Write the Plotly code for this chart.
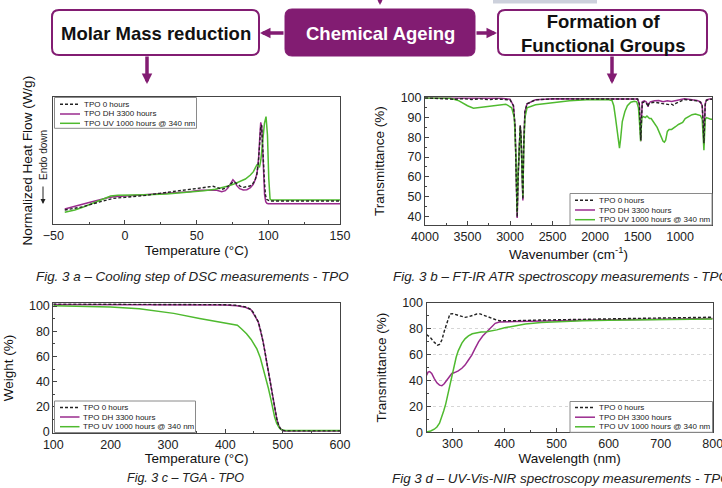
import plotly.graph_objects as go

W, H = 722, 488
PURPLE_BOX = "#821c72"
C_0H = "#222222"
C_DH = "#9a2b8e"
C_UV = "#4fba2f"
FONT = "Liberation Sans, Arial, sans-serif"

series_names = ["TPO 0 hours", "TPO DH 3300 hours", "TPO UV 1000 hours @ 340 nm"]

# ---- Fig 3a: DSC cooling step ----
dsc_T_0h = [-42, -35, -29, -23, -17.4, -12, -8, 0, 6, 15, 24, 33, 41, 50, 57, 61.5, 64.5, 67.5, 70, 72,
            73.5, 75.5, 77, 78.5, 80.5, 82.6, 85, 87.2, 89, 90.7, 92, 93, 94, 94.7, 95.3, 95.9, 96.6,
            97.3, 98, 98.8, 100, 101, 110, 130, 150]
dsc_hf_0h = [4.2, 4.7, 5.2, 6.0, 6.7, 7.3, 7.7, 8.0, 8.2, 8.6, 9.2, 9.7, 10.2, 10.7, 11.2, 11.3, 10.9,
             10.4, 10.7, 11.5, 12.1, 12.6, 12.4, 11.9, 11.3, 11.0, 11.1, 11.4, 12.0, 13.1, 14.9, 18.2,
             24.2, 29.2, 29.7, 25.7, 18.7, 12.7, 8.7, 7.4, 7.0, 6.9, 6.9, 6.9, 6.9]
dsc_T_dh = [-42, -35, -29, -23, -17.4, -12, -8, 0, 10, 29, 45, 52, 60, 64, 67.5, 70, 72, 74, 75.3, 76.5,
            78, 80, 82.5, 85, 87.5, 89.5, 91, 92.2, 93.2, 94, 94.7, 95.4, 96, 96.7, 97.4, 98.2, 99, 100,
            110, 130, 150]
dsc_hf_dh = [4.5, 5.2, 6.0, 6.7, 7.4, 7.9, 8.2, 8.4, 8.6, 9.2, 9.7, 10.1, 10.2, 10.1, 9.7, 10.0, 10.9,
             12.6, 13.3, 12.7, 11.5, 10.6, 10.2, 10.3, 10.9, 11.9, 13.4, 15.5, 19.7, 25.7, 30.5, 29.2,
             22.7, 14.7, 8.7, 6.7, 6.2, 6.1, 6.1, 6.1, 6.1]
dsc_T_uv = [-42, -35, -29, -23, -17.4, -13, -10, -5, 0, 15, 29, 45, 55, 63, 68.6, 72, 75.5, 80, 84,
            87.5, 89.6, 91, 92, 93, 93.8, 94.8, 96.1, 97.3, 98.4, 99.4, 100.3, 101.2, 102, 110, 130, 150]
dsc_hf_uv = [3.5, 4.2, 5.1, 6.1, 7.1, 8.0, 8.4, 8.6, 8.7, 8.8, 9.0, 9.5, 10.0, 10.4, 10.9, 11.4, 11.9,
             12.7, 13.5, 14.7, 15.7, 16.9, 17.7, 17.5, 17.0, 19.2, 25.2, 30.2, 32.2, 26.7, 13.7, 7.5,
             7.2, 7.2, 7.2, 7.2]

# ---- Fig 3b: FT-IR ATR ----
ir_wn_dh = [4000, 3700, 3100, 3000, 2960, 2940, 2925, 2916, 2905, 2890, 2880, 2870, 2858, 2849, 2840,
            2825, 2800, 2700, 2500, 2000, 1800, 1600, 1500, 1480, 1470, 1462, 1455, 1445, 1420, 1400,
            1385, 1377, 1370, 1350, 1300, 1250, 1200, 1150, 1100, 1050, 1000, 950, 900, 850, 800, 760,
            740, 730, 720, 714, 705, 690, 650, 600]
ir_T_dh = [100, 100, 99.8, 99.3, 96, 85, 55, 39, 60, 82, 86, 80, 60, 48, 75, 93, 97, 99, 99.6, 99.7,
           99.8, 99.8, 99.5, 97, 86, 78, 88, 98, 98.5, 98, 97, 95.5, 97, 98, 98.5, 98.7, 98, 98.5, 98.2,
           98.7, 99, 99.5, 99.3, 99, 98.7, 98, 96, 88, 76, 85, 97, 99, 99.5, 99.5]
ir_wn_0h = [4000, 3800, 3650, 3550, 3450, 3350, 3250, 3150, 3050, 3000, 2960, 2940, 2925, 2916, 2905,
            2890, 2880, 2870, 2858, 2849, 2840, 2825, 2800, 2700, 2500, 2000, 1800, 1600, 1500, 1480,
            1470, 1462, 1455, 1445, 1420, 1400, 1385, 1377, 1370, 1350, 1300, 1250, 1200, 1150, 1120,
            1100, 1080, 1050, 1000, 950, 900, 850, 800, 760, 740, 730, 720, 714, 705, 690, 650, 600]
ir_T_0h = [100, 99.7, 99.3, 99.6, 99.2, 99.5, 99.1, 99.4, 99.2, 99.0, 96, 85, 55, 39.5, 60, 82, 86, 80,
           60, 48.5, 75, 93, 97, 99, 99.5, 99.6, 99.7, 99.7, 99.4, 97, 86, 78.5, 88, 97.5, 98, 97.5, 96.5,
           95.5, 96.8, 97.5, 97.8, 97.5, 97.2, 97.0, 96.5, 96.8, 96.3, 97.2, 98.2, 99.2, 99.0, 98.8, 98.5,
           97.8, 95.8, 88, 77, 85, 96.5, 98.8, 99.3, 99.3]
ir_wn_uv = [4000, 3700, 3600, 3500, 3430, 3350, 3200, 3050, 2980, 2950, 2930, 2917, 2905, 2890, 2880,
            2870, 2858, 2849, 2840, 2825, 2800, 2700, 2500, 2300, 2100, 1950, 1850, 1800, 1780, 1760,
            1740, 1720, 1713, 1700, 1680, 1650, 1620, 1580, 1540, 1510, 1490, 1475, 1465, 1458, 1450,
            1430, 1410, 1390, 1377, 1360, 1340, 1300, 1270, 1240, 1220, 1200, 1185, 1170, 1150, 1130,
            1100, 1080, 1050, 1020, 1000, 970, 940, 900, 860, 820, 790, 760, 740, 730, 720, 712, 705,
            690, 660, 640, 600]
ir_T_uv = [100, 99.8, 98.5, 96, 94.8, 95.2, 96.2, 96.8, 95, 90, 70, 42, 62, 80, 85.5, 79, 62, 50, 72,
           90, 95, 96.5, 97.5, 98.5, 99, 99.2, 99.2, 98.6, 96, 90, 82, 75, 74.5, 79, 88, 93, 96, 97.8,
           98.3, 98, 95, 86, 78, 84, 90, 90.5, 90, 90.8, 90, 89.5, 89.5, 87, 85, 82, 80, 78, 77.5, 78.5,
           83, 84, 84, 84.5, 85.5, 86.5, 87, 87.5, 89.5, 90.5, 91.5, 91.8, 91.5, 91, 89, 83, 73.5, 82,
           89, 90, 89.5, 89.2, 89]

# ---- Fig 3c: TGA ----
tga_T_0h = [100, 200, 300, 400, 420, 435, 445, 449, 453, 457.5, 462, 466, 469, 472, 475, 478, 481, 484,
            487, 490, 493, 496, 500, 505, 600]
tga_w_0h = [101.6, 101.6, 101.5, 101.1, 100.6, 99.4, 97.3, 94.8, 91.3, 87.5, 80, 72, 64, 56, 48, 40,
            32, 24, 16.5, 10, 5.5, 2.8, 1.3, 1.0, 1.0]
tga_T_dh = [100, 200, 300, 400, 420, 435, 445, 449, 453, 457.5, 462, 466, 469, 472, 475, 478, 481, 484,
            487, 490, 493, 496, 500, 505, 600]
tga_w_dh = [101.2, 101.2, 101.1, 100.8, 100.3, 99.1, 97.0, 94.5, 91.0, 87.3, 79.8, 71.8, 63.8, 55.8,
            47.8, 39.8, 31.8, 23.8, 16.3, 9.8, 5.3, 2.6, 1.2, 0.9, 0.9]
tga_T_uv = [100, 150, 200, 250, 270, 310, 355, 400, 415, 421, 428, 437, 445, 455, 461, 466, 471, 475,
            479, 482.6, 486, 489.5, 494, 498, 505, 600]
tga_w_uv = [100.3, 100.0, 99.2, 97.8, 96.8, 94.2, 90.2, 86.5, 85.3, 84.8, 82, 78, 73.5, 66, 59, 51, 42,
            35, 27, 19, 12, 7, 3.5, 1.8, 1.2, 1.2]

# ---- Fig 3d: UV-Vis-NIR ----
uv_nm_0h = [250, 257, 264, 271, 275, 279.5, 284, 289, 292, 295, 300, 308, 316, 324, 332, 340, 346.6, 353,
            359, 366, 372, 378, 385, 391, 400, 420, 467, 500, 600, 700, 800]
uv_T_0h = [75.5, 73.5, 70, 67.4, 68, 71.3, 78, 84.5, 88.5, 91.5, 91.8, 90.7, 89.6, 88.9, 89.5, 90.8,
           91.5, 91.6, 90.7, 89.5, 88.3, 87.4, 86.8, 86.3, 86.2, 86.3, 86.8, 87.1, 87.7, 88.4, 89.0]
uv_nm_dh = [250, 253, 256, 260, 265, 270, 275, 279.5, 284, 289, 295, 298.7, 304, 311, 318, 324, 330, 337,
            343, 350, 358, 366, 374, 382, 390, 398, 420, 450, 500, 600, 700, 800]
uv_T_dh = [44, 46.5, 47, 45.5, 41.5, 38.3, 36.5, 36, 37.5, 40.5, 44.2, 45.5, 46.2, 47.5, 49.5, 52, 55.5,
           59.7, 64.5, 70, 74.5, 77.8, 81.2, 84.3, 85.3, 85.5, 85.6, 85.8, 86.3, 87, 87.5, 88]
uv_nm_uv = [250, 258, 265, 270, 275, 279.5, 283, 287, 290, 293, 296.8, 300, 303, 307, 311, 318, 324,
            330.6, 338, 346.6, 355, 365.8, 375, 385, 400, 420, 440, 470, 500, 550, 600, 700, 800]
uv_T_uv = [0.3, 1.0, 2.4, 4.1, 7.0, 11.9, 16.5, 22, 27.4, 33, 40, 46, 51.5, 58, 63, 69, 72.3, 74.6, 76.2,
           77.1, 77.5, 77.8, 78.3, 79.2, 80.8, 82.5, 83.8, 85.0, 85.6, 86.3, 86.7, 87.2, 87.6]


def X(px):
    return px / W


def Y(py):
    return 1 - py / H


fig = go.Figure()

panels = [
    ("x", "y", [(dsc_T_0h, dsc_hf_0h), (dsc_T_dh, dsc_hf_dh), (dsc_T_uv, dsc_hf_uv)]),
    ("x2", "y2", [(ir_wn_0h, ir_T_0h), (ir_wn_dh, ir_T_dh), (ir_wn_uv, ir_T_uv)]),
    ("x3", "y3", [(tga_T_0h, tga_w_0h), (tga_T_dh, tga_w_dh), (tga_T_uv, tga_w_uv)]),
    ("x4", "y4", [(uv_nm_0h, uv_T_0h), (uv_nm_dh, uv_T_dh), (uv_nm_uv, uv_T_uv)]),
]
styles = [dict(color=C_0H, width=1.4, dash="3px,2px"),
          dict(color=C_DH, width=1.5),
          dict(color=C_UV, width=1.5)]
draw_order = [1, 2, 0]
for xa, ya, data in panels:
    for i in draw_order:
        xs, ys = data[i]
        fig.add_trace(go.Scatter(
            x=xs, y=ys, mode="lines", name=series_names[i], line=styles[i],
            xaxis=xa, yaxis=ya, showlegend=False, hoverinfo="skip"))

axis_style = dict(showline=True, linecolor="#444", linewidth=1, mirror=True, ticks="inside",
                  ticklen=4, tickcolor="#444", tickwidth=1, showgrid=False, zeroline=False,
                  ticklabeloverflow="allow",
                  tickfont=dict(size=12.5, color="#222", family=FONT),
                  title_font=dict(size=13.5, color="#111", family=FONT))


def minor(dt):
    return dict(ticks="inside", ticklen=2, tickcolor="#444", dtick=dt)


fig.update_layout(
    width=W, height=H, autosize=False,
    margin=dict(l=0, r=0, t=0, b=0, autoexpand=False),
    paper_bgcolor="white", plot_bgcolor="white",
    font=dict(family=FONT, color="#222"),
    showlegend=False,
    xaxis=dict(axis_style, domain=[X(53.3), X(340)], range=[-50, 150], anchor="y", dtick=50,
               minor=minor(25), title=dict(text="Temperature (°C)", standoff=2)),
    yaxis=dict(axis_style, domain=[Y(224), Y(97.3)], range=[0, 38], anchor="x",
               showticklabels=False, ticks="",
               title=dict(text="Normalized Heat Flow (W/g)", standoff=16)),
    xaxis2=dict(axis_style, domain=[X(425), X(712)], range=[4000, 625], anchor="y2", dtick=500,
                minor=minor(250), title=dict(text="Wavenumber (cm<sup>-1</sup>)", standoff=2)),
    yaxis2=dict(axis_style, domain=[Y(225), Y(97.3)], range=[35.5, 100.3], anchor="x2", dtick=10,
                minor=minor(5), title=dict(text="Transmittance (%)", standoff=12)),
    xaxis3=dict(axis_style, domain=[X(53.3), X(340)], range=[100, 600], anchor="y3", dtick=100,
                minor=minor(50), title=dict(text="Temperature (°C)", standoff=2)),
    yaxis3=dict(axis_style, domain=[Y(432.5), Y(303.3)], range=[-0.3, 102.2], anchor="x3", dtick=20,
                minor=minor(10), title=dict(text="Weight (%)", standoff=12)),
    xaxis4=dict(axis_style, domain=[X(426.5), X(712.7)], range=[250, 800], anchor="y4", dtick=100,
                minor=minor(50), title=dict(text="Wavelength (nm)", standoff=2)),
    yaxis4=dict(axis_style, domain=[Y(432.3), Y(303)], range=[0, 100], anchor="x4", dtick=20,
                minor=minor(10), showgrid=True, gridcolor="#d6d6d6", griddash="3px,3px", gridwidth=1,
                title=dict(text="Transmittance (%)", standoff=12)),
)


def rrect(x0, y0, x1, y1, r):
    rx, ry = r / W, r / H
    a, b, c, d = X(x0), Y(y0), X(x1), Y(y1)
    return (f"M{a+rx},{b} L{c-rx},{b} Q{c},{b} {c},{b-ry} L{c},{d+ry} Q{c},{d} {c-rx},{d} "
            f"L{a+rx},{d} Q{a},{d} {a},{d+ry} L{a},{b-ry} Q{a},{b} {a+rx},{b} Z")


shapes = [
    dict(type="rect", xref="paper", yref="paper", x0=X(493), x1=X(597), y0=Y(3.5), y1=Y(-2),
         fillcolor="#cdd1dc", line=dict(width=0), layer="below"),
    dict(type="path", xref="paper", yref="paper", path=rrect(52, 10, 259, 55, 7),
         fillcolor="white", line=dict(color=PURPLE_BOX, width=2)),
    dict(type="path", xref="paper", yref="paper", path=rrect(285, 9, 475, 56, 7),
         fillcolor=PURPLE_BOX, line=dict(color=PURPLE_BOX, width=1)),
    dict(type="path", xref="paper", yref="paper", path=rrect(498, 10, 707, 55, 7),
         fillcolor="white", line=dict(color=PURPLE_BOX, width=2)),
]

ann = []
box_font = dict(family=FONT, size=18.5, color="#111")
ann.append(dict(text="<b>Molar Mass reduction</b>", x=X(155.5), y=Y(33), xref="paper", yref="paper",
                xanchor="center", yanchor="middle", showarrow=False, font=box_font))
ann.append(dict(text="<b>Chemical Ageing</b>", x=X(380), y=Y(33), xref="paper", yref="paper",
                xanchor="center", yanchor="middle", showarrow=False,
                font=dict(family=FONT, size=18.5, color="white")))
ann.append(dict(text="<b>Formation of<br>Functional Groups</b>", x=X(602.5), y=Y(33.5), xref="paper",
                yref="paper", xanchor="center", yanchor="middle", showarrow=False, font=box_font))

arrow = dict(xref="paper", yref="paper", text="", showarrow=True, arrowhead=2, arrowsize=0.6,
             arrowwidth=3.5, arrowcolor=PURPLE_BOX, axref="pixel", ayref="pixel")
ann.append(dict(arrow, x=X(260), y=Y(33), ax=25, ay=0))
ann.append(dict(arrow, x=X(497), y=Y(33), ax=-22, ay=0))
ann.append(dict(arrow, x=X(147), y=Y(84), ax=0, ay=-29))
ann.append(dict(arrow, x=X(612), y=Y(84), ax=0, ay=-29))
ann.append(dict(arrow, x=X(380), y=Y(5), ax=0, ay=-25))

# Endo down note
ann.append(dict(text="Endo down", x=X(43), y=Y(155), xref="paper", yref="paper", showarrow=False,
                xanchor="center", yanchor="middle", textangle=-90,
                font=dict(family=FONT, size=10, color="#222")))
ann.append(dict(text="", x=X(43), y=Y(204), xref="paper", yref="paper", showarrow=True, arrowhead=2,
                arrowsize=1, arrowwidth=1, arrowcolor="#222", axref="pixel", ayref="pixel", ax=0, ay=-19))

# legends (one box per panel): box left/right, top/bottom, row centres, line x-range, text x
legend_boxes = [
    dict(x0=54.5, x1=196.5, y0=97.5, y1=128.3, rows=[104.3, 114, 123.3], lx=(60, 80), tx=81.5),
    dict(x0=570, x1=712, y0=193.5, y1=225, rows=[200.3, 210, 219.7], lx=(575, 595), tx=596.5),
    dict(x0=54.5, x1=195.5, y0=401, y1=432.5, rows=[407.5, 417, 426.7], lx=(60, 79.5), tx=81),
    dict(x0=570, x1=712.5, y0=401.5, y1=432.3, rows=[407.5, 417.2, 426.8], lx=(575, 595), tx=596.5),
]
for lb in legend_boxes:
    shapes.append(dict(type="rect", xref="paper", yref="paper", x0=X(lb["x0"]), x1=X(lb["x1"]),
                       y0=Y(lb["y1"]), y1=Y(lb["y0"]), fillcolor="white",
                       line=dict(color="#8a8a8a", width=1)))
    for i, ry in enumerate(lb["rows"]):
        st = styles[i]
        shapes.append(dict(type="line", xref="paper", yref="paper", x0=X(lb["lx"][0]), x1=X(lb["lx"][1]),
                           y0=Y(ry), y1=Y(ry),
                           line=dict(color=st["color"], width=st["width"], dash=st.get("dash", "solid"))))
        ann.append(dict(text=series_names[i], x=X(lb["tx"]), y=Y(ry), xref="paper", yref="paper",
                        xanchor="left", yanchor="middle", showarrow=False,
                        font=dict(family=FONT, size=8, color="#222")))

cap_font = dict(family=FONT, size=13.4, color="#222")
ann.append(dict(text="<i>Fig. 3 a – Cooling step of DSC measurements - TPO</i>", x=X(192.5), y=Y(276),
                xref="paper", yref="paper", xanchor="center", yanchor="middle", showarrow=False,
                font=cap_font))
ann.append(dict(text="<i>Fig. 3 b – FT-IR ATR spectroscopy measurements - TPO</i>", x=X(391), y=Y(276),
                xref="paper", yref="paper", xanchor="left", yanchor="middle", showarrow=False,
                font=cap_font))
ann.append(dict(text="<i>Fig. 3 c – TGA - TPO</i>", x=X(185.5), y=Y(478),
                xref="paper", yref="paper", xanchor="center", yanchor="middle", showarrow=False,
                font=dict(cap_font, size=12.5)))
ann.append(dict(text="<i>Fig 3 d – UV-Vis-NIR spectroscopy measurements - TPO</i>", x=X(390), y=Y(478),
                xref="paper", yref="paper", xanchor="left", yanchor="middle", showarrow=False,
                font=cap_font))

fig.update_layout(shapes=shapes, annotations=ann)

fig.write_html("out.html", config={"displayModeBar": False},
               post_script="document.body.style.margin='0';document.body.style.overflow='hidden';")
